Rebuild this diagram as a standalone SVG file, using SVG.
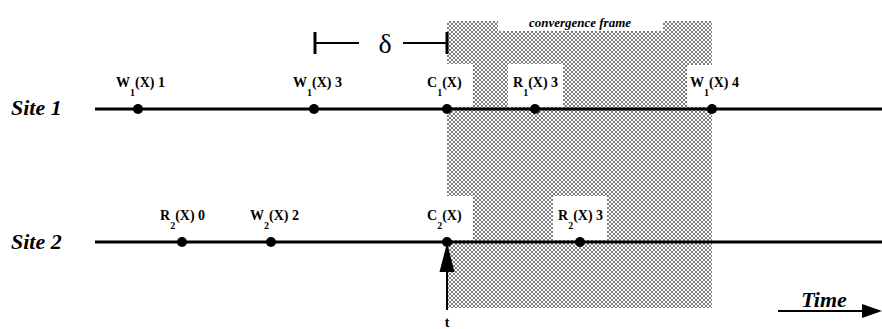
<svg xmlns="http://www.w3.org/2000/svg" width="882" height="329" viewBox="0 0 882 329">
<style>
.line{stroke:#000;stroke-width:3;fill:none}
.thin{stroke:#000;stroke-width:2;fill:none}
.dot{fill:#000}
.knock{fill:#fff}
</style>
<defs>
<pattern id="hatch" x="0" y="0" width="4" height="4" patternUnits="userSpaceOnUse">
<rect width="4" height="4" fill="#fff"/>
<g fill="#7a7a7a" shape-rendering="crispEdges">
<rect x="0" y="0" width="1" height="1"/><rect x="1" y="1" width="1" height="1"/>
<rect x="2" y="2" width="1" height="1"/><rect x="3" y="3" width="1" height="1"/>
<rect x="3" y="0" width="1" height="1"/><rect x="2" y="1" width="1" height="1"/>
<rect x="1" y="2" width="1" height="1"/><rect x="0" y="3" width="1" height="1"/>
</g>
</pattern>
</defs>
<rect width="882" height="329" fill="#fff"/>

<g font-family="Liberation Serif" fill="#000">

<g id="convergence-frame">
<rect x="447" y="21" width="265" height="287" fill="url(#hatch)"/>
<rect class="knock" x="498" y="21" width="165" height="10"/>
<rect class="knock" x="447" y="64" width="26" height="43"/>
<rect class="knock" x="508" y="64" width="55" height="43"/>
<rect class="knock" x="687" y="65" width="25" height="42"/>
<rect class="knock" x="447" y="196" width="26" height="44"/>
<rect class="knock" x="553" y="196" width="54" height="44"/>
<text x="580" y="27" text-anchor="middle" font-weight="bold" font-style="italic" font-size="13">convergence frame</text>
</g>

<g id="connectors">
<line class="line" x1="95" y1="109" x2="882" y2="109"/>
<line class="line" x1="95" y1="242" x2="882" y2="242"/>
<g id="delta">
<line class="line" x1="315" y1="32" x2="315" y2="54"/>
<line class="thin" x1="315" y1="43" x2="359" y2="43"/>
<line class="thin" x1="403" y1="43" x2="447" y2="43"/>
<line class="line" x1="447" y1="32" x2="447" y2="54"/>
<text x="385" y="53" text-anchor="middle" font-size="28">δ</text>
</g>
<g id="t-arrow">
<line class="thin" x1="447" y1="310" x2="447" y2="268"/>
<polygon points="447,243 439.5,272 454.5,272" fill="#000"/>
<text x="447" y="327" text-anchor="middle" font-weight="bold" font-size="14">t</text>
</g>
<g id="time-arrow">
<line class="thin" x1="778" y1="311" x2="864" y2="311"/>
<polygon points="882,311 862,304 862,318" fill="#000"/>
<text x="824" y="307" text-anchor="middle" font-weight="bold" font-style="italic" font-size="22">Time</text>
</g>
</g>

<g font-weight="bold" font-style="italic" font-size="22">
<g id="site1"><text x="11" y="115">Site 1</text></g>
<g id="site2"><text x="11" y="249">Site 2</text></g>
</g>

<g font-weight="bold" font-size="14">
<g id="w1x1"><circle class="dot" cx="138" cy="109" r="5"/><text x="116" y="87">W<tspan font-size="10" dy="9">1</tspan><tspan dy="-9">(X) 1</tspan></text></g>
<g id="w1x3"><circle class="dot" cx="314" cy="109" r="5"/><text x="293" y="87">W<tspan font-size="10" dy="9">1</tspan><tspan dy="-9">(X) 3</tspan></text></g>
<g id="c1x"><circle class="dot" cx="447" cy="109" r="5"/><text x="427" y="87">C<tspan font-size="10" dy="9">1</tspan><tspan dy="-9">(X)</tspan></text></g>
<g id="r1x3"><circle class="dot" cx="535" cy="109" r="5"/><text x="513" y="87">R<tspan font-size="10" dy="9">1</tspan><tspan dy="-9">(X) 3</tspan></text></g>
<g id="w1x4"><circle class="dot" cx="712" cy="109" r="5"/><text x="690" y="87">W<tspan font-size="10" dy="9">1</tspan><tspan dy="-9">(X) 4</tspan></text></g>

<g id="r2x0"><circle class="dot" cx="182" cy="242" r="5"/><text x="160" y="220">R<tspan font-size="10" dy="9">2</tspan><tspan dy="-9">(X) 0</tspan></text></g>
<g id="w2x2"><circle class="dot" cx="271" cy="242" r="5"/><text x="250" y="220">W<tspan font-size="10" dy="9">2</tspan><tspan dy="-9">(X) 2</tspan></text></g>
<g id="c2x"><circle class="dot" cx="447" cy="242" r="5"/><text x="427" y="220">C<tspan font-size="10" dy="9">2</tspan><tspan dy="-9">(X)</tspan></text></g>
<g id="r2x3"><circle class="dot" cx="580" cy="242" r="5"/><text x="558" y="220">R<tspan font-size="10" dy="9">2</tspan><tspan dy="-9">(X) 3</tspan></text></g>
</g>
</g>
</svg>
